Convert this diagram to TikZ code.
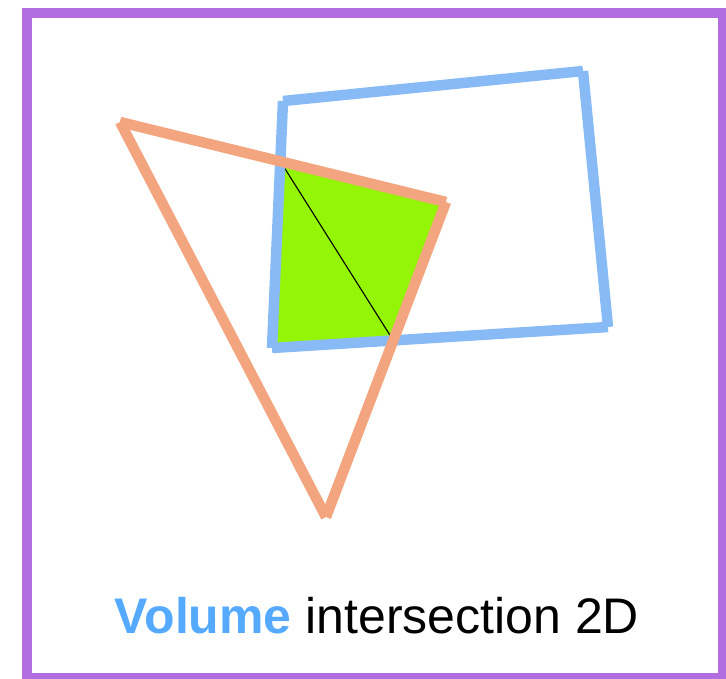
\documentclass[tikz,border=0pt]{standalone}
\usepackage{fontspec}
\setmainfont{Liberation Sans}
\definecolor{framepurple}{RGB}{176,110,224}
\definecolor{quadblue}{RGB}{136,187,245}
\definecolor{trioranje}{RGB}{242,165,126}
\definecolor{interg}{RGB}{148,245,7}
\definecolor{volblue}{RGB}{85,170,255}
\tikzset{
  edgeq/.style={draw=quadblue,line width=10.5pt,line cap=butt},
  edget/.style={draw=trioranje,line width=10.5pt,line cap=butt},
}
\begin{document}
\begin{tikzpicture}[x=1pt,y=-1pt]
\useasboundingbox (0,0) rectangle (726,678);
% triangle
\coordinate (A) at (120,122);
\coordinate (B) at (446,202);
\coordinate (C) at (326,517);
% quadrilateral
\coordinate (P1) at (283,101);
\coordinate (P2) at (583,71);
\coordinate (P3) at (608,327);
\coordinate (P4) at (272,348);
% intersections
\coordinate (G1) at (intersection of A--B and P1--P4);
\coordinate (G2) at (intersection of B--C and P4--P3);
\fill[interg] (G1) -- (B) -- (G2) -- (P4) -- cycle;
\draw[black,line width=1.1pt] (G1) -- (G2);
% quad edges
\draw[edgeq] (P1) -- (P2);
\draw[edgeq] (P2) -- (P3);
\draw[edgeq] (P3) -- (P4);
\draw[edgeq] (P4) -- (P1);
% triangle edges
\draw[edget] (A) -- (B);
\draw[edget] (B) -- (C);
\draw[edget] (C) -- (A);
% frame
\draw[framepurple,line width=10pt] (27,12.5) rectangle (723,678);
\node[anchor=base,font=\fontsize{50}{54}\selectfont,inner sep=0pt] (lbl) at (377,633)
  {\textcolor{volblue}{\bfseries Volume} intersection 2D};
\end{tikzpicture}
\end{document}
